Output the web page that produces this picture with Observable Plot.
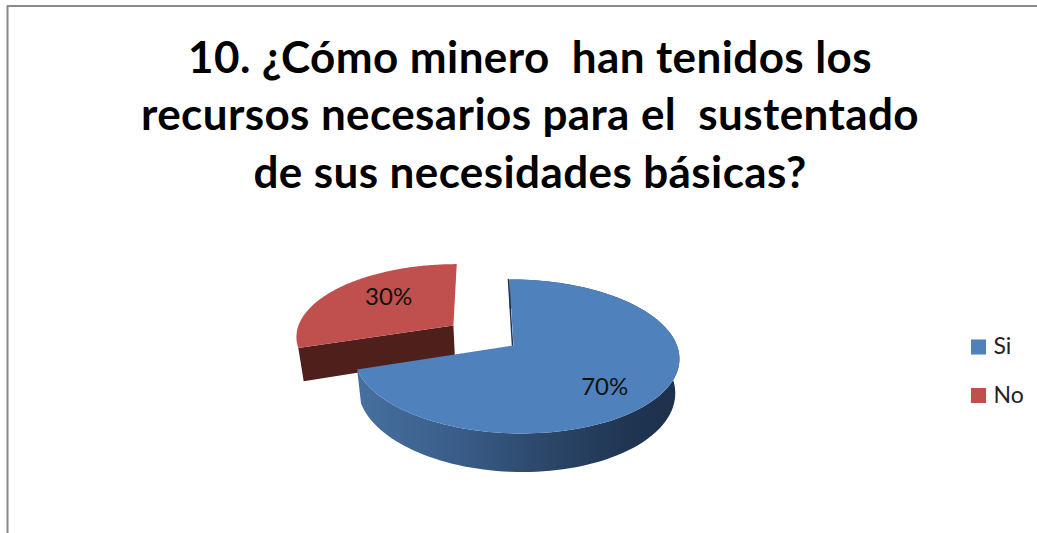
<!DOCTYPE html>
<html>
<head>
<meta charset="utf-8">
<script src="https://cdn.jsdelivr.net/npm/d3@7"></script>
<script src="https://cdn.jsdelivr.net/npm/@observablehq/plot@0.6"></script>
<style>html,body{margin:0;padding:0;background:#fff}svg{display:block}.chart-title text{letter-spacing:.4px}</style>
</head>
<body>
<div id="chart"></div>
<script>
// data
const categories = ["Si", "No"];
const values = [70, 30];
const colors = ["#4f81bd", "#c0504d"];
const titleLines = [
  "10. ¿Cómo minero  han tenidos los",
  "recursos necesarios para el  sustentado",
  "de sus necesidades básicas?"
];

// layout
const W = 1037, H = 533;
const cx = 513, cy = 345, R = 161, T = 75.4, K = 1 / 7, SKEW = 4.6, DEPTH = 33, CONVERGE = 0.025;
const EXPLODE = [0, 0.47];
const TILT = [0.015, 0];
const LABEL_R = 0.55;
const LABEL_OFF = [[14, 16], [0, -7]];

// perspective projection of a unit-disc point, at extrusion depth d
function project(u, v, d = 0, m = 0) {
  const s = 1 / (1 - K * v - m * u);
  const c = 1 - CONVERGE * d / DEPTH;
  return {x: cx + (R * u + SKEW * v) * s * c, y: cy + (T * v + d) * s};
}
const total = d3.sum(values);
let acc = 0;
const slices = categories.map((name, i) => {
  const a0 = acc / total * 2 * Math.PI;
  acc += values[i];
  const a1 = acc / total * 2 * Math.PI;
  const mid = (a0 + a1) / 2;
  return {name, value: values[i], a0, a1, mid, m: TILT[i], ox: Math.sin(mid) * EXPLODE[i], oy: -Math.cos(mid) * EXPLODE[i], color: colors[i]};
});
const rim = (s, a, r = 1) => [s.ox + r * Math.sin(a), s.oy - r * Math.cos(a)];
function arc(s, d = 0) {
  return d3.range(0, 121).map(k => {
    const a = s.a0 + (s.a1 - s.a0) * k / 120;
    const [u, v] = rim(s, a);
    return project(u, v, d, s.m);
  });
}
const topFace = s => [project(s.ox, s.oy, 0, s.m), ...arc(s), project(s.ox, s.oy, 0, s.m)];
const sideFace = s => [...arc(s), ...arc(s, DEPTH).reverse()];
function cutFace(s, a) {
  const [u, v] = rim(s, a);
  return [project(s.ox, s.oy, 0, s.m), project(u, v, 0, s.m), project(u, v, DEPTH, s.m), project(s.ox, s.oy, DEPTH, s.m)];
}
const [blue, red] = slices;
const poly = (pts, fill) => Plot.line(pts, {x: "x", y: "y", fill, stroke: "none", curve: "linear"});

const defs = () => {
  const d = d3.create("svg:defs");
  const g = d.append("linearGradient").attr("id", "blueSide")
    .attr("gradientUnits", "userSpaceOnUse")
    .attr("x1", 357).attr("x2", 677).attr("y1", 0).attr("y2", 0);
  [[0, "#46709f"], [0.3, "#3a5e8a"], [0.6, "#2b4668"], [0.85, "#1f3552"], [1, "#1d304b"]]
    .forEach(([o, c]) => g.append("stop").attr("offset", o).attr("stop-color", c));
  return d.node();
};

const labels = slices.map((s, i) => {
  const [u, v] = rim(s, s.mid, LABEL_R);
  const p = project(u, v, 0, s.m);
  return {x: p.x + LABEL_OFF[i][0], y: p.y + LABEL_OFF[i][1], text: s.value + "%"};
});

const plot = Plot.plot({
  width: W, height: H, margin: 0,
  x: {domain: [0, W], range: [0, W], axis: null},
  y: {domain: [0, H], range: [0, H], axis: null},
  style: {fontFamily: "Lato", background: "#fff"},
  marks: [
    defs,
    // frame
    Plot.line([{x: 7, y: H}, {x: 7, y: 5.5}, {x: W, y: 5.5}], {x: "x", y: "y", stroke: "#8a8a8a", strokeWidth: 2}),
    // title
    Plot.text(titleLines, {x: () => 529.5, y: (d, i) => 58 + i * 57.6, text: d => d, fontSize: 44, fontWeight: 700, fill: "#000", textAnchor: "middle", lineAnchor: "middle", className: "chart-title"}),
    // red slice
    poly(cutFace(red, red.a0), "#4f1f1c"),
    poly(topFace(red), red.color),
    // blue slice
    poly(sideFace(blue), "url(#blueSide)"),
    Plot.line([project(blue.ox, blue.oy, 0, blue.m), project(...rim(blue, blue.a0), 0, blue.m)], {x: d => d.x - 1, y: "y", stroke: "#1f3552", strokeWidth: 1.5}),
    poly(topFace(blue), blue.color),
    // percent labels
    Plot.text(labels, {x: "x", y: "y", text: "text", fontSize: 24, fill: "#111", lineAnchor: "middle"}),
    // legend
    Plot.dot(slices, {x: () => 978, y: (d, i) => 346.5 + i * 48.5, symbol: "square", r: 8.5, fill: "color", stroke: "none"}),
    Plot.text(slices, {x: () => 993, y: (d, i) => 346.5 + i * 48.5, text: "name", fontSize: 23, fill: "#222", textAnchor: "start", lineAnchor: "middle"})
  ]
});
document.getElementById("chart").appendChild(plot);
</script>
</body>
</html>
